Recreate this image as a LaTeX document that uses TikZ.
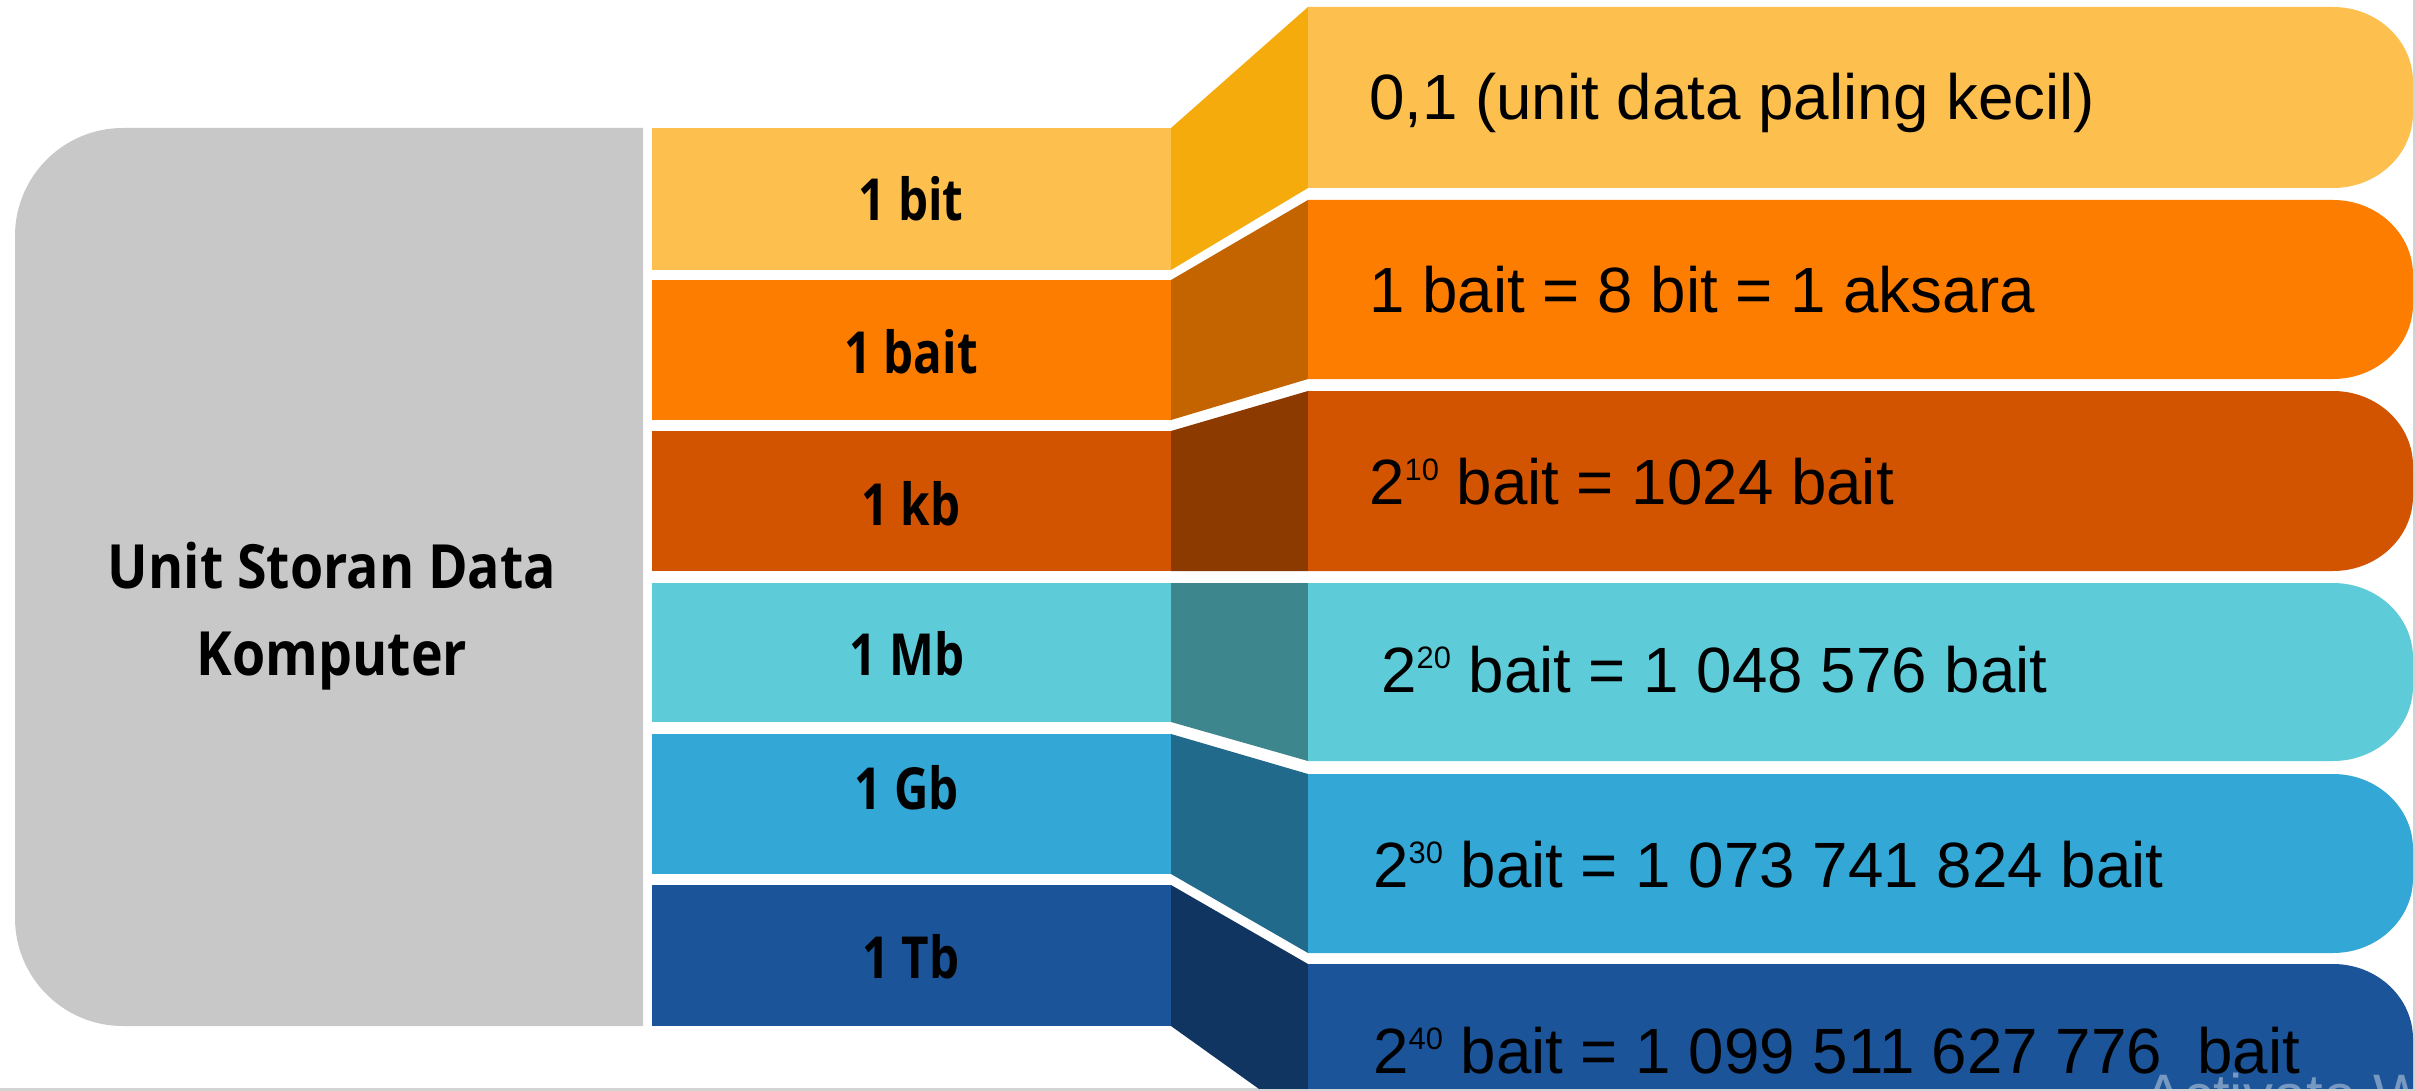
\documentclass[tikz,border=0pt]{standalone}
\usepackage{fontspec}
\newfontfamily\condbold[FakeStretch=0.82]{Open Sans}
\newfontfamily\ttlbold[FakeStretch=0.88]{Open Sans}
\newfontfamily\valfamily[FakeStretch=0.995]{Liberation Sans}
\definecolor{ylight}{HTML}{FDBF4E}
\definecolor{yside}{HTML}{F5AB0B}
\definecolor{olight}{HTML}{FD7D00}
\definecolor{oside}{HTML}{C46400}
\definecolor{kmain}{HTML}{D35400}
\definecolor{kside}{HTML}{8D3A00}
\definecolor{mmain}{HTML}{5ECCD8}
\definecolor{mside}{HTML}{3E868E}
\definecolor{gmain}{HTML}{33A8D6}
\definecolor{gside}{HTML}{216A8B}
\definecolor{tmain}{HTML}{1B5499}
\definecolor{tside}{HTML}{103560}
\definecolor{greybox}{HTML}{C8C8C8}
\definecolor{bordergrey}{HTML}{D3D3D3}
\newcommand\rbar[3]{\fill[#1] (1308,#2) -- (2333,#2) arc[start angle=-90,end angle=0,x radius=80,y radius=75] -- (2413,{#3-75}) arc[start angle=0,end angle=90,x radius=80,y radius=75] -- (1308,#3) -- cycle;}
\newcommand\sups[1]{\raisebox{24pt}{\fontsize{31}{31}\selectfont #1}}
\tikzset{
  lbl/.style={inner sep=0pt, anchor=base, font=\condbold\bfseries\fontsize{58}{60}\selectfont, text=black},
  ttl/.style={inner sep=0pt, anchor=base, font=\ttlbold\bfseries\fontsize{61}{62}\selectfont, text=black},
  val/.style={inner sep=0pt, anchor=base west, font=\valfamily\fontsize{64}{70}\selectfont, text=black},
}
\begin{document}
\begin{tikzpicture}[x=1pt,y=-1pt]
\useasboundingbox (0,0) rectangle (2416,1091);
\fill[white] (0,0) rectangle (2416,1091);
\fill[bordergrey] (0,1088) rectangle (2416,1091);
\fill[bordergrey] (2413,0) rectangle (2416,1091);
\begin{scope}
\clip (0,0) rectangle (2413,1088);
% grey box
\fill[greybox] (643,128) -- (123,128) arc[start angle=-90,end angle=-180,radius=108] -- (15,918) arc[start angle=180,end angle=90,radius=108] -- (643,1026) -- cycle;
% left bars
\fill[ylight] (652,128) rectangle (1171,270);
\fill[olight] (652,280) rectangle (1171,420);
\fill[kmain] (652,431) rectangle (1171,571);
\fill[mmain] (652,583) rectangle (1171,722);
\fill[gmain] (652,734) rectangle (1171,874);
\fill[tmain] (652,885) rectangle (1171,1026);
% side faces
\fill[yside] (1171,128) -- (1308,7) -- (1308,188) -- (1171,270) -- cycle;
\fill[oside] (1171,280) -- (1308,200) -- (1308,379) -- (1171,420) -- cycle;
\fill[kside] (1171,431) -- (1308,391) -- (1308,571) -- (1171,571) -- cycle;
\fill[mside] (1171,583) -- (1308,583) -- (1308,761) -- (1171,722) -- cycle;
\fill[gside] (1171,734) -- (1308,774) -- (1308,953) -- (1171,874) -- cycle;
\fill[tside] (1171,885) -- (1308,964) -- (1308,1124) -- (1171,1026) -- cycle;
% right bars
\rbar{ylight}{7}{188}
\rbar{olight}{200}{379}
\rbar{kmain}{391}{571}
\rbar{mmain}{583}{761}
\rbar{gmain}{774}{953}
\rbar{tmain}{964}{1200}
% texts
\node[ttl] (t1) at (332,588) {Unit Storan Data};
\node[ttl] (t2) at (332,675) {Komputer};
\node[lbl] (l1) at (911,221) {1 bit};
\node[lbl] (l2) at (911,373) {1 bait};
\node[lbl] (l3) at (911,525) {1 kb};
\node[lbl] (l4) at (907,675) {1 Mb};
\node[lbl] (l5) at (907,809) {1 Gb};
\node[lbl] (l6) at (911,978) {1 Tb};
\node[val] (v1) at (1369,120) {0,1 (unit data paling kecil)};
\node[val] (v2) at (1369,312) {1 bait = 8 bit = 1 aksara};
\node[val] (v3) at (1369,504) {2\sups{10} bait = 1024 bait};
\node[val] (v4) at (1381,692) {2\sups{20} bait = 1 048 576 bait};
\node[val] (v5) at (1373,887) {2\sups{30} bait = 1 073 741 824 bait};
\node[val] (v6) at (1373,1073) {2\sups{40} bait = 1 099 511 627 776\ \ bait};
\node[inner sep=0pt, anchor=base west, font=\fontspec{Liberation Sans}\fontsize{60}{60}\selectfont, text=white, opacity=0.4] (wm) at (2143,1116) {Activate Windows};
\end{scope}
\end{tikzpicture}
\end{document}
